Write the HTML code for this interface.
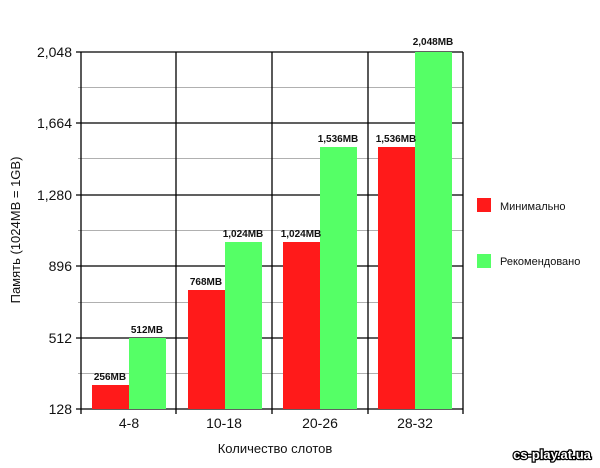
<!DOCTYPE html>
<html><head><meta charset="utf-8"><style>body{margin:0;background:#fff}</style></head>
<body>
<svg width="600" height="463" xmlns="http://www.w3.org/2000/svg" font-family="Liberation Sans, DejaVu Sans, sans-serif">
<rect width="600" height="463" fill="#fff"/>
<g stroke="#b0b0b0" stroke-width="1">
<line x1="78" y1="87.5" x2="463" y2="87.5"/><line x1="78" y1="158.5" x2="463" y2="158.5"/>
<line x1="78" y1="230.5" x2="463" y2="230.5"/><line x1="78" y1="302.5" x2="463" y2="302.5"/>
<line x1="78" y1="373.5" x2="463" y2="373.5"/>
</g>
<g stroke="#000" stroke-width="1.3">
<line x1="76" y1="52" x2="463" y2="52"/><line x1="76" y1="123" x2="463" y2="123"/>
<line x1="76" y1="195" x2="463" y2="195"/><line x1="76" y1="266" x2="463" y2="266"/>
<line x1="76" y1="338" x2="463" y2="338"/><line x1="76" y1="409" x2="463" y2="409"/>
<line x1="81" y1="52" x2="81" y2="414"/><line x1="176" y1="52" x2="176" y2="414"/>
<line x1="272" y1="52" x2="272" y2="414"/><line x1="368" y1="52" x2="368" y2="414"/>
<line x1="463" y1="52" x2="463" y2="414"/>
</g>
<g fill="#ff1a1a">
<rect x="92" y="385" width="37" height="24"/><rect x="188" y="290" width="37" height="119"/>
<rect x="283" y="242" width="37" height="167"/><rect x="378" y="147" width="37" height="262"/>
</g>
<g fill="#55ff66">
<rect x="129" y="338" width="37" height="71"/><rect x="225" y="242" width="37" height="167"/>
<rect x="320" y="147" width="37" height="262"/><rect x="415" y="52" width="37" height="357"/>
</g>
<g font-size="10" font-weight="bold" text-anchor="middle" fill="#111">
<text x="110" y="380">256MB</text><text x="147" y="333">512MB</text>
<text x="206" y="285">768MB</text><text x="243" y="237">1,024MB</text>
<text x="301" y="237">1,024MB</text><text x="338" y="142">1,536MB</text>
<text x="396" y="142">1,536MB</text><text x="433" y="45">2,048MB</text>
</g>
<g font-size="14" text-anchor="end" fill="#111">
<text x="72" y="57">2,048</text><text x="72" y="128">1,664</text><text x="72" y="200">1,280</text>
<text x="72" y="271">896</text><text x="72" y="343">512</text><text x="72" y="414">128</text>
</g>
<g font-size="14" text-anchor="middle" fill="#111">
<text x="129" y="428">4-8</text><text x="224" y="428">10-18</text>
<text x="320" y="428">20-26</text><text x="415" y="428">28-32</text>
<text x="275" y="453" font-size="13">Количество слотов</text>
<text transform="translate(20,230) rotate(-90)" font-size="13">Память (1024MB = 1GB)</text>
</g>
<rect x="477" y="198" width="14" height="14" fill="#ff1a1a"/>
<rect x="477" y="254" width="14" height="14" fill="#55ff66"/>
<text x="500" y="210" font-size="11" fill="#111">Минимально</text>
<text x="500" y="265" font-size="11" fill="#111">Рекомендовано</text>
<text x="552" y="459" font-size="13" font-weight="bold" text-anchor="middle" fill="#fff" stroke="#000" stroke-width="2.5" paint-order="stroke">cs-play.at.ua</text>
</svg>
</body></html>
